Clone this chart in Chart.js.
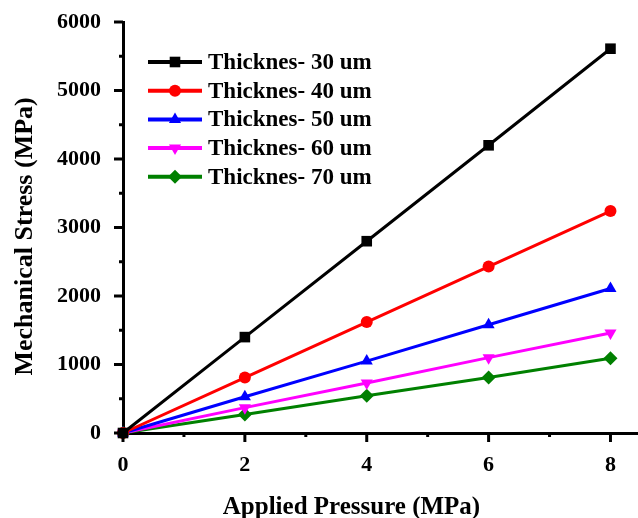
<!DOCTYPE html>
<html>
<head>
<meta charset="utf-8">
<script src="https://cdn.jsdelivr.net/npm/chart.js@4"></script>
<style>
  html, body { margin: 0; padding: 0; background: #fff; overflow: hidden; }
  #wrap { width: 638px; height: 518px; overflow: hidden; }
</style>
</head>
<body>
<div id="wrap"><canvas id="stressChart" width="646" height="518"></canvas></div>
<script>
// values
const pressure = [0, 2, 4, 6, 8];
const stress30 = [0, 1400, 2800, 4200, 5610];
const stress40 = [0, 810, 1620, 2430, 3240];
const stress50 = [0, 530, 1050, 1580, 2110];
const stress60 = [0, 370, 730, 1100, 1460];
const stress70 = [0, 270, 545, 810, 1090];
const seriesNames = ['Thicknes- 30 um', 'Thicknes- 40 um', 'Thicknes- 50 um', 'Thicknes- 60 um', 'Thicknes- 70 um'];
const xTickLabels = [0, 2, 4, 6, 8];
const xTitle = 'Applied Pressure (MPa)';
const yTitle = 'Mechanical Stress (MPa)';

const seriesColors = ['#000000', '#ff0000', '#0000ff', '#ff00ff', '#008000'];
const markers = ['rect', 'circle', 'triangle', 'triangle', 'rectRot'];
const markerRotation = [0, 0, 0, 180, 0];
const markerRadius = [7.5, 6, 7, 7, 7];

const FONT = '"Liberation Serif", "Times New Roman", serif';

const allSeries = [stress30, stress40, stress50, stress60, stress70];
const datasets = allSeries.map(function (vals, i) {
    return {
        label: seriesNames[i],
        data: vals.map(function (v, k) { return { x: pressure[k], y: v }; }),
        borderColor: seriesColors[i],
        backgroundColor: seriesColors[i],
        borderWidth: 3,
        pointStyle: markers[i],
        rotation: markerRotation[i],
        pointRadius: markerRadius[i],
        pointBorderWidth: 0,
        clip: false,
        tension: 0
    };
});

// short/long outward ticks like the original plot, plus both axis titles
// (they sit off the axis centres in the original)
const tickMarks = {
    id: 'tickMarks',
    afterDraw(chart) {
        const ctx = chart.ctx;
        const xs = chart.scales.x, ys = chart.scales.y;
        const area = chart.chartArea;
        ctx.save();
        ctx.strokeStyle = '#000';
        ctx.lineWidth = 3;
        for (let v = 0; v <= 8; v++) {
            const px = xs.getPixelForValue(v);
            const len = v % 2 === 0 ? 9 : 4;
            ctx.beginPath();
            ctx.moveTo(px, area.bottom);
            ctx.lineTo(px, area.bottom + len);
            ctx.stroke();
        }
        for (let v = 0; v <= 6000; v += 500) {
            const py = ys.getPixelForValue(v);
            const len = v % 1000 === 0 ? 9 : 4;
            ctx.beginPath();
            ctx.moveTo(area.left, py);
            ctx.lineTo(area.left - len, py);
            ctx.stroke();
        }
        ctx.fillStyle = '#000';
        ctx.textAlign = 'center';
        ctx.textBaseline = 'middle';
        ctx.font = 'bold 25px ' + FONT;
        ctx.fillText(xTitle, xs.getPixelForValue(3.75), 508);
        ctx.translate(25, ys.getPixelForValue(2870));
        ctx.rotate(-Math.PI / 2);
        ctx.font = 'bold 26px ' + FONT;
        ctx.fillText(yTitle, 0, 0);
        ctx.restore();
    }
};

// legend with line + marker, drawn inside the plot
const lineLegend = {
    id: 'lineLegend',
    afterDraw(chart) {
        const ctx = chart.ctx;
        const x0 = 148, x1 = 202, top = 62, step = 28.7;
        ctx.save();
        chart.data.datasets.forEach(function (ds, i) {
            const y = top + i * step;
            ctx.strokeStyle = ds.borderColor;
            ctx.fillStyle = ds.borderColor;
            ctx.lineWidth = 4;
            ctx.beginPath();
            ctx.moveTo(x0, y);
            ctx.lineTo(x1, y);
            ctx.stroke();
            Chart.helpers.drawPoint(ctx, {
                pointStyle: ds.pointStyle,
                rotation: ds.rotation,
                radius: ds.pointRadius,
                borderWidth: 0
            }, (x0 + x1) / 2, y);
            ctx.fillStyle = '#000';
            ctx.font = 'bold 23px ' + FONT;
            ctx.textBaseline = 'middle';
            ctx.fillText(ds.label, 208, y + 1);
        });
        ctx.restore();
    }
};

new Chart(document.getElementById('stressChart').getContext('2d'), {
    type: 'line',
    data: { datasets: datasets },
    options: {
        responsive: false,
        animation: false,
        layout: { padding: { top: 22, right: 0, left: 0, bottom: 0 } },
        plugins: { legend: { display: false }, tooltip: { enabled: false } },
        scales: {
            x: {
                type: 'linear',
                min: 0,
                max: 8.46,
                afterBuildTicks: function (scale) {
                    scale.ticks = xTickLabels.map(function (v) { return { value: v }; });
                },
                afterFit: function (scale) { scale.height = 85; },
                grid: { display: true, drawOnChartArea: false, color: 'rgba(0,0,0,0)', tickLength: 19 },
                border: { display: true, color: '#000', width: 3 },
                ticks: { color: '#000', padding: 0, maxRotation: 0, font: { family: FONT, size: 22, weight: 'bold' } },
                title: { display: false }
            },
            y: {
                min: 0,
                max: 6000,
                afterFit: function (scale) { scale.width = 123; },
                grid: { display: true, drawOnChartArea: false, color: 'rgba(0,0,0,0)', tickLength: 22 },
                border: { display: true, color: '#000', width: 3 },
                ticks: { stepSize: 1000, color: '#000', padding: 0,
                         callback: function (v) { return String(v); },
                         font: { family: FONT, size: 22, weight: 'bold' } },
                title: { display: false }
            }
        }
    },
    plugins: [tickMarks, lineLegend]
});
</script>
</body>
</html>
